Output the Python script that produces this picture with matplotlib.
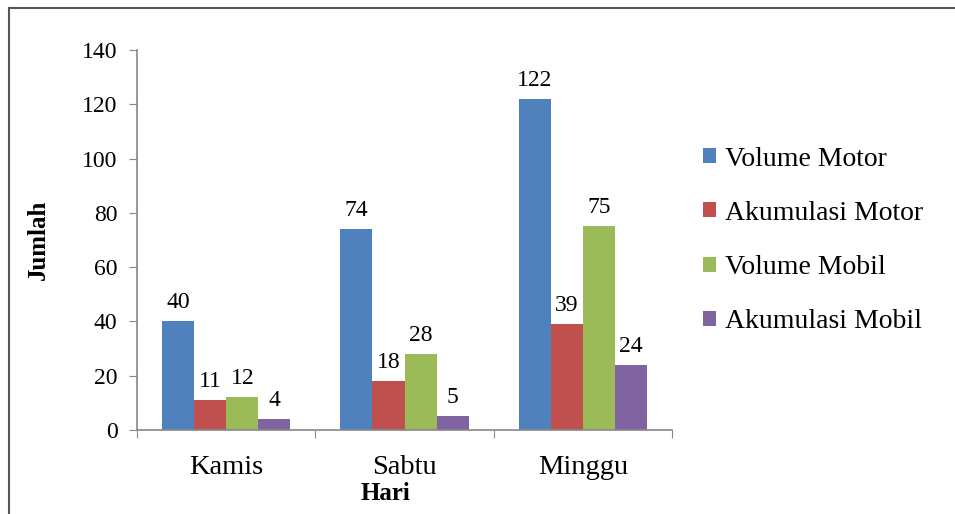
import numpy as np
import matplotlib.pyplot as plt
from matplotlib.lines import Line2D

plt.rcParams['font.family'] = ['Liberation Serif', 'DejaVu Serif']

hari = ['Kamis', 'Sabtu', 'Minggu']
seri = ['Volume Motor', 'Akumulasi Motor', 'Volume Mobil', 'Akumulasi Mobil']
volume_motor = [40, 74, 122]
akumulasi_motor = [11, 18, 39]
volume_mobil = [12, 28, 75]
akumulasi_mobil = [4, 5, 24]
warna = ['#4F81BD', '#C0504D', '#9BBB59', '#8064A2']

fig = plt.figure(figsize=(9.55, 5.14), dpi=100)
ax = fig.add_axes([0.1435, 0.1634, 0.7037 - 0.1435, 0.9027 - 0.1634])

x = np.arange(len(hari))
lebar = 0.18
data = [volume_motor, akumulasi_motor, volume_mobil, akumulasi_mobil]
for i, (nilai, nama, c) in enumerate(zip(data, seri, warna)):
    pos = x + (i - 1.5) * lebar
    ax.bar(pos, nilai, width=lebar, color=c, label=nama, zorder=2)
    for p, v in zip(pos, nilai):
        ax.annotate(str(v), (p, v), xytext=(0, 6), textcoords='offset points',
                    ha='center', va='bottom', fontsize=17)

ax.set_xlim(-0.5, 2.5)
ax.set_ylim(0, 140)
ax.set_yticks(range(0, 141, 20))
ax.set_xticks([-0.5, 0.5, 1.5, 2.5])
ax.set_xticklabels([])
ax.set_xticks(x, minor=True)
ax.set_xticklabels(hari, minor=True, fontsize=20.5)
ax.tick_params(axis='x', which='minor', length=0, pad=18)
ax.tick_params(axis='x', which='major', length=6, direction='out', color='#888888')
ax.tick_params(axis='y', length=6, direction='out', color='#888888', labelsize=17, pad=8)

for s in ['top', 'right']:
    ax.spines[s].set_visible(False)
for s in ['left', 'bottom']:
    ax.spines[s].set_color('#888888')
    ax.spines[s].set_linewidth(1.2)

ax.set_ylabel('Jumlah', fontsize=18, fontweight='bold')
ax.yaxis.set_label_coords(-0.163, 0.5)
ax.set_xlabel('Hari', fontsize=18, fontweight='bold')
ax.xaxis.set_label_coords(0.465, -0.138)

ax.legend(loc='center left', bbox_to_anchor=(1.058, 0.499), frameon=False,
          fontsize=20, handlelength=0.45, handleheight=0.45, handletextpad=0.35,
          labelspacing=1.05, borderaxespad=0, borderpad=0)

# bingkai tipis di tepi kiri dan atas
fig.add_artist(Line2D([0.0094, 0.0094], [0, 0.985], transform=fig.transFigure,
                      color='#555555', lw=1.5))
fig.add_artist(Line2D([0.0094, 1.0], [0.985, 0.985], transform=fig.transFigure,
                      color='#555555', lw=1.5))

fig.savefig('out.png', dpi=100)
